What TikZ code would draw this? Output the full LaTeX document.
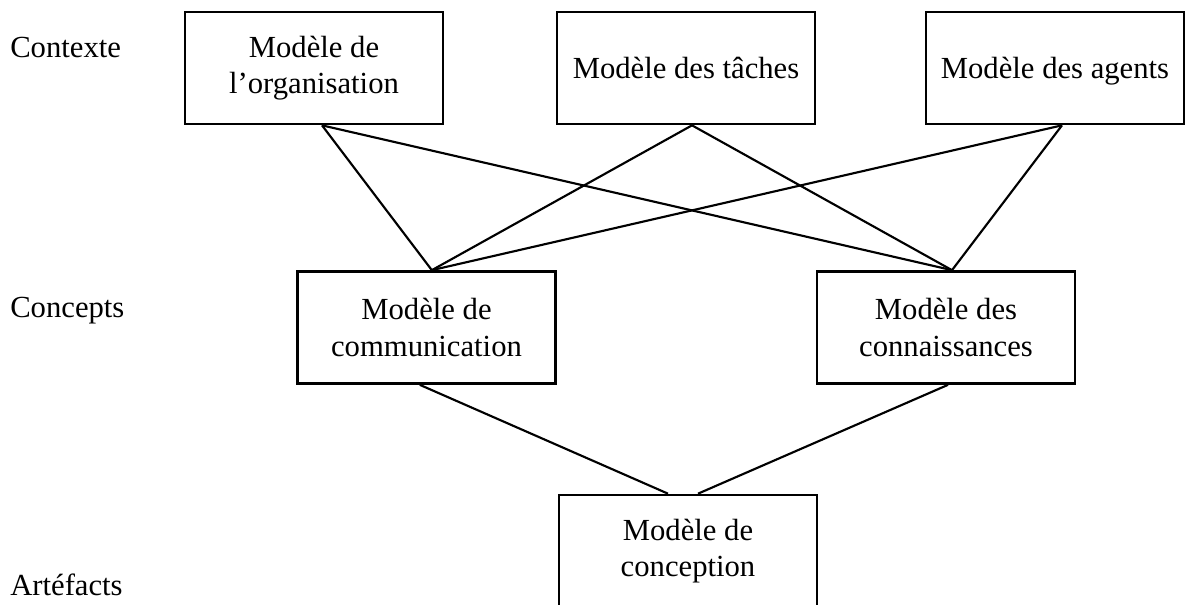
\documentclass[tikz,border=0pt]{standalone}
\usepackage{fontspec}
\setmainfont{Liberation Serif}
\begin{document}
\begin{tikzpicture}[x=0.75pt,y=-0.75pt,
  model/.style={draw, line width=2pt, minimum width=193.5pt, minimum height=84pt,
    align=center, inner sep=0pt, font=\fontsize{23}{27.5}\selectfont},
  oneline/.style={text height=20pt, text depth=4.8pt},
  level/.style={anchor=base west, inner sep=0pt, font=\fontsize{23}{27.5}\selectfont},
  link/.style={line width=1.6pt}]
\useasboundingbox (0,0) rectangle (1187,604);
\clip (0,0) rectangle (1187,604);

% level labels
\node[level] (lctx) at (10,57) {Contexte};
\node[level] (lcpt) at (10,317) {Concepts};
\node[level] (lart) at (10,595) {Artéfacts};

% models
\node[model] (org)    at (314,68)    {Modèle de\\l’organisation};
\node[model,oneline] (task)  at (686,68)  {Modèle des tâches};
\node[model,oneline] (agent) at (1055,68) {Modèle des agents};
\node[model] (comm)   at (426.5,327.5) {Modèle de\\communication};
\node[model] (know)   at (946,327.5) {Modèle des\\connaissances};
\node[model] (design) at (688,551)   {Modèle de\\conception};

% attachment points
\coordinate (orgB)   at ([xshift=6pt]org.south);
\coordinate (taskB)  at ([xshift=4.5pt]task.south);
\coordinate (agentB) at ([xshift=5.25pt]agent.south);
\coordinate (commT)  at ([xshift=4pt]comm.north);
\coordinate (commB)  at ([xshift=-5pt]comm.south);
\coordinate (knowT)  at ([xshift=4.5pt]know.north);
\coordinate (knowB)  at ([xshift=1.5pt]know.south);
\coordinate (desL)   at ([xshift=-15pt]design.north);
\coordinate (desR)   at ([xshift=7.5pt]design.north);

% links
\draw[link] (orgB) -- (commT);
\draw[link] (orgB) -- (knowT);
\draw[link] (taskB) -- (commT);
\draw[link] (taskB) -- (knowT);
\draw[link] (agentB) -- (commT);
\draw[link] (agentB) -- (knowT);
\draw[link] (commB) -- (desL);
\draw[link] (knowB) -- (desR);
\end{tikzpicture}
\end{document}
